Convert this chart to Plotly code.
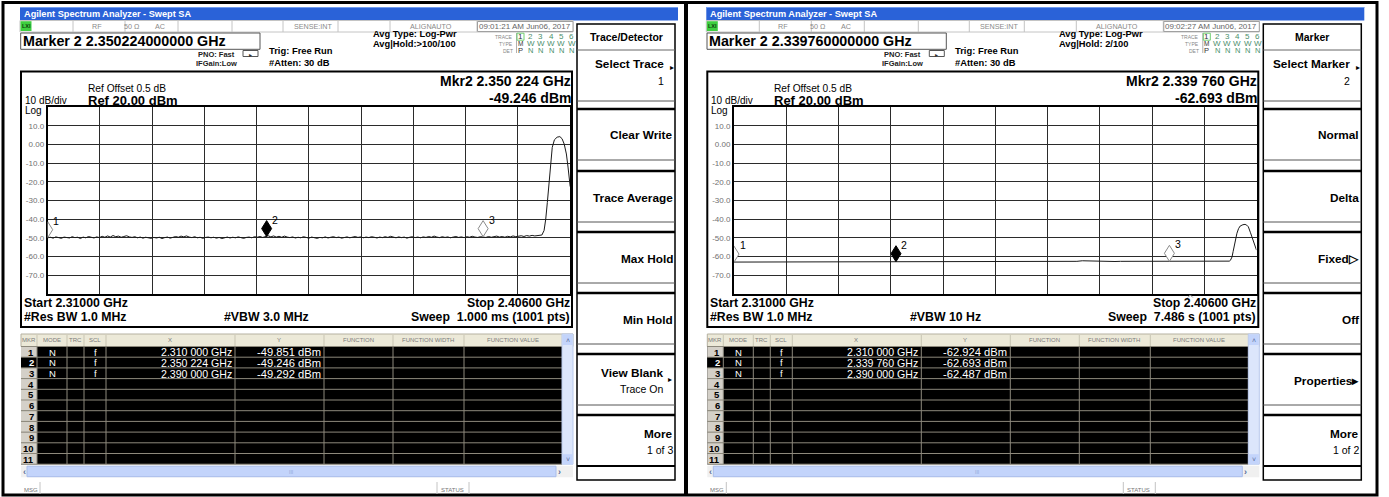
import plotly.graph_objects as go

W, H = 1389, 497
FONT = 'Liberation Sans'

# ---------------- data ----------------
F_START, F_STOP = 2.310, 2.406          # GHz
Y_MIN, Y_MAX = -80.0, 20.0              # dBm
N_DIV = 10
Y_TICK_VALS = [10, 0, -10, -20, -30, -40, -50, -60, -70]
Y_TICK_TEXT = ['10.0', '0.00', '-10.0', '-20.0', '-30.0', '-40.0', '-50.0', '-60.0', '-70.0']

# left screen: trace 1 (noise floor, 0.5 MHz sampled) + carrier edge
L_NOISE_F0, L_NOISE_DF = 2.310, 0.0005
L_NOISE = [
    -49.9, -49.6, -50.1, -49.4, -49.8, -50.2, -49.5, -49.7, -50.0, -49.3, -49.8, -49.6, -50.3, -49.5, -49.9, -49.2, -49.7, -50.0, -49.4, -49.8,
    -49.1, -49.6, -48.9, -49.5, -48.7, -49.3, -49.0, -49.6, -49.2, -48.8, -49.4, -49.7, -49.3, -49.9, -49.5, -50.1, -49.6, -49.8, -50.2, -49.7,
    -50.0, -49.6, -50.3, -49.8, -49.5, -50.1, -49.7, -49.2, -49.6, -49.0, -49.4, -48.9, -49.5, -49.8, -49.3, -49.9, -49.6, -50.2, -49.7, -49.5,
    -49.9, -49.6, -50.1, -49.7, -50.3, -49.8, -49.5, -50.0, -49.6, -49.9, -49.4, -49.8, -50.2, -49.7, -49.5, -49.9, -49.3, -49.6, -49.2, -49.7,
    -49.3, -48.8, -49.4, -48.9, -49.5, -49.1, -49.6, -49.0, -49.5, -49.8, -49.4, -50.0, -49.6, -49.9, -49.3, -49.7, -50.1, -49.5, -49.8, -50.2,
    -49.7, -49.9, -49.4, -50.0, -49.6, -49.3, -49.8, -49.5, -50.1, -49.7, -49.4, -49.9, -49.6, -49.2, -49.7, -49.4, -49.9, -49.5, -49.8, -49.3,
    -49.6, -50.0, -49.5, -49.8, -49.3, -49.7, -49.1, -49.6, -49.9, -49.4, -49.8, -49.5, -50.1, -49.6, -49.3, -49.8, -49.5, -49.9, -49.4, -49.7,
    -49.2, -49.6, -49.0, -49.5, -49.8, -49.3, -49.7, -49.4, -49.9, -49.5, -49.2, -49.7, -49.4, -49.8, -49.3, -49.6, -49.1, -49.5, -49.7, -49.3,
    -49.4, -49.7, -49.2, -49.6, -49.3, -49.0, -49.5, -49.2, -49.6, -49.1, -49.4, -48.9, -49.3, -49.0, -48.8, -49.2, -48.7, -49.0, -48.6, -48.9,
    -48.7,
]
L_PEAK_F = [2.4008, 2.4012, 2.4015, 2.4018, 2.4021, 2.4024, 2.4027, 2.4031, 2.4036, 2.4041, 2.4045, 2.4049, 2.4053, 2.4056, 2.4060]
L_PEAK_V = [-48.4, -46.0, -40.0, -31.0, -20.0, -9.0, -1.5, 2.6, 4.0, 4.3, 3.2, 0.3, -5.0, -12.0, -22.5]

# right screen: heavily video-filtered trace (1 MHz sampled) + carrier edge
R_NOISE_F0, R_NOISE_DF = 2.310, 0.001
R_NOISE = [
    -62.9, -62.9, -62.9, -62.8, -62.9, -62.8, -62.8, -62.9, -62.8, -62.8,
    -62.8, -62.8, -62.7, -62.8, -62.8, -62.7, -62.8, -62.7, -62.7, -62.8,
    -62.7, -62.7, -62.8, -62.7, -62.7, -62.7, -62.7, -62.6, -62.7, -62.7,
    -62.7, -62.7, -62.6, -62.7, -62.7, -62.6, -62.7, -62.6, -62.7, -62.6,
    -62.6, -62.7, -62.6, -62.6, -62.7, -62.6, -62.6, -62.6, -62.7, -62.6,
    -62.6, -62.6, -62.6, -62.5, -62.6, -62.6, -62.6, -62.5, -62.6, -62.6,
    -62.5, -62.6, -62.6, -62.5, -62.2, -62.3, -62.5, -62.6, -62.5, -62.5,
    -62.6, -62.5, -62.5, -62.5, -62.6, -62.5, -62.5, -62.5, -62.6, -62.5,
    -62.5, -62.5, -62.4, -62.5, -62.5, -62.2, -62.3, -62.5, -62.4, -62.5,
    -62.4,
]
R_PEAK_F = [2.4010, 2.4012, 2.4015, 2.4017, 2.4020, 2.4024, 2.4027, 2.4030, 2.4035, 2.4039, 2.4042, 2.4045, 2.4049, 2.4052, 2.4055, 2.4058, 2.4060]
R_PEAK_V = [-62.4, -62.0, -60.2, -57.3, -52.5, -47.5, -45.0, -43.6, -42.9, -42.7, -43.1, -44.0, -47.2, -49.7, -53.0, -55.6, -56.5]

# markers
L_MKR_F = [2.310000, 2.350224, 2.390000]
L_MKR_V = [-49.851, -49.246, -49.292]
R_MKR_F = [2.310000, 2.339760, 2.390000]
R_MKR_V = [-62.924, -62.693, -62.487]
ACTIVE_MKR = 2

# instrument settings text
TITLE = 'Agilent Spectrum Analyzer - Swept SA'
STATUS_TXT = [('RF', 97, 'center'), ('50 Ω', 132, 'center'), ('AC', 160, 'center'),
              ('SENSE:INT', 334, 'right'), ('ALIGNAUTO', 431, 'center')]
L_DATE, R_DATE = '09:01:21 AM Jun06, 2017', '09:02:27 AM Jun06, 2017'
L_AVG, R_AVG = 'Avg|Hold:&gt;100/100', 'Avg|Hold: 2/100'
L_VBW, R_VBW = '#VBW 3.0 MHz', '#VBW 10 Hz'
L_SWEEP, R_SWEEP = 'Sweep  1.000 ms (1001 pts)', 'Sweep  7.486 s (1001 pts)'
RBW = '#Res BW 1.0 MHz'
L_HEADER, R_HEADER = 'Trace/Detector', 'Marker'
L_KEYS = [('Select Trace', '1', True), ('Clear Write', '', False), ('Trace Average', '', False),
          ('Max Hold', '', False), ('Min Hold', '', False), ('View Blank', 'Trace On', True),
          ('More', '1 of 3', False)]
R_KEYS = [('Select Marker', '2', True), ('Normal', '', False), ('Delta', '', False),
          ('Fixed▷', '', False), ('Off', '', False), ('Properties▸', '', False),
          ('More', '1 of 2', False)]
TRACE_NUMS = ['1', '2', '3', '4', '5', '6']
TRACE_TYPES = ['M', 'W', 'W', 'W', 'W', 'W']
TRACE_DETS = ['P', 'N', 'N', 'N', 'N', 'N']
TABLE_HEAD = [('MKR', 29), ('MODE', 52), ('TRC', 75.5), ('SCL', 95), ('X', 170), ('Y', 279),
              ('FUNCTION', 358), ('FUNCTION WIDTH', 428), ('FUNCTION VALUE', 513)]
TABLE_ROWS = 11

# ---------------- geometry (pixels) ----------------
PANEL_DX = [0.0, 686.3]
GX0, GX1 = 47.7, 570.2
GY0, GY1 = 107.3, 294.0
COL_SEPS = [37, 67, 84, 106, 235, 324, 393, 464]
STATUS_SEPS = [73, 125, 178, 232, 283, 338, 390, 477]
KEY_TOPS = [50, 109, 171, 232, 293, 354, 415]
KEY_H = 51
ROW_TOP, ROW_H = 346.5, 10.7

shapes, anns = [], []


def rect(x0, y0, x1, y1, fill=None, line=None, lw=1.0):
    shapes.append(dict(type='rect', xref='paper', yref='paper', layer='above',
                       x0=x0 / W, x1=x1 / W, y0=1 - y1 / H, y1=1 - y0 / H,
                       fillcolor=fill if fill else 'rgba(0,0,0,0)',
                       line=dict(color=line if line else 'rgba(0,0,0,0)', width=lw if line else 0)))


def seg(x0, y0, x1, y1, color='black', lw=1.0):
    shapes.append(dict(type='line', xref='paper', yref='paper', layer='above',
                       x0=x0 / W, x1=x1 / W, y0=1 - y0 / H, y1=1 - y1 / H,
                       line=dict(color=color, width=lw)))


def txt(x, y, s, size=10, bold=False, color='black', anchor='left'):
    anns.append(dict(xref='paper', yref='paper', x=x / W, y=1 - y / H,
                     text=('<b>%s</b>' % s) if bold else s, showarrow=False,
                     xanchor=anchor, yanchor='middle', borderpad=0,
                     font=dict(size=size, color=color, family=FONT)))


def fmt_ghz(f):
    s = '%.6f' % f
    return s[:5] + ' ' + s[5:]


PANELS = [
    dict(noise=(L_NOISE_F0, L_NOISE_DF, L_NOISE), peak=(L_PEAK_F, L_PEAK_V),
         mkr=(L_MKR_F, L_MKR_V), date=L_DATE, avg=L_AVG, vbw=L_VBW, sweep=L_SWEEP,
         header=L_HEADER, keys=L_KEYS),
    dict(noise=(R_NOISE_F0, R_NOISE_DF, R_NOISE), peak=(R_PEAK_F, R_PEAK_V),
         mkr=(R_MKR_F, R_MKR_V), date=R_DATE, avg=R_AVG, vbw=R_VBW, sweep=R_SWEEP,
         header=R_HEADER, keys=R_KEYS),
]

fig = go.Figure()

# outer document table borders
rect(3, 2.5, 1377, 495, line='black', lw=3)
seg(686, 2.5, 686, 495, 'black', 4)

for pi, p in enumerate(PANELS):
    dx = PANEL_DX[pi]
    X = lambda x, d=dx: x + d
    xa = 'x' if pi == 0 else 'x2'
    ya = 'y' if pi == 0 else 'y2'
    mf, mv = p['mkr']
    act = ACTIVE_MKR - 1

    # title bar
    rect(X(20), 7, X(678), 20.5, fill='#2a62d8')
    seg(X(20), 7.5, X(678), 7.5, '#6f9cf0', 1)
    txt(X(23), 13.9, TITLE, 9.2, True, 'white')

    # status row
    rect(X(20), 20.5, X(573), 32, fill='white', line='#c4c4c4', lw=1)
    rect(X(20.5), 21.2, X(31.5), 31, fill='#3fcf3f')
    txt(X(26), 26.2, 'LXI', 5.5, True, '#0d3d0d', 'center')
    for sx in STATUS_SEPS:
        seg(X(sx), 21, X(sx), 32, '#c4c4c4', 1)
    for s, sx, anc in STATUS_TXT:
        txt(X(sx), 26.0, s, 7.2, False, '#8a8a8a', anc)
    rect(X(477.5), 21.5, X(573), 31.5, fill='white', line='#a0a0a0', lw=1)
    txt(X(525), 26.3, p['date'], 8, False, '#666', 'center')

    # marker frequency entry line
    rect(X(20.7), 33, X(260), 49.3, fill='white', line='#555', lw=1)
    txt(X(22), 41.2, 'Marker %d %.12f GHz' % (ACTIVE_MKR, mf[act]), 14.3, True, 'black')
    txt(X(216.5), 54, 'PNO: Fast', 7.5, True, '#222', 'center')
    txt(X(216), 63.8, 'IFGain:Low', 7.5, True, '#222', 'center')
    rect(X(243), 50.5, X(258), 56.5, fill='white', line='#555', lw=1)
    txt(X(250.5), 54.5, '▸', 6, False, '#333', 'center')
    txt(X(268), 50.5, 'Trig: Free Run', 9.4, True)
    txt(X(268), 62.3, '#Atten: 30 dB', 9.4, True)
    txt(X(372), 34.3, 'Avg Type: Log-Pwr', 9.3, True)
    txt(X(372), 44.2, p['avg'], 9.3, True)

    # trace legend box
    seg(X(516.5), 33, X(516.5), 53, '#b0b0b0', 1)
    rect(X(517), 33.2, X(524), 40.2, line='#70cf70', lw=1)
    txt(X(514), 36.7, 'TRACE', 5, False, '#888', 'right')
    txt(X(514), 43.6, 'TYPE', 5, False, '#888', 'right')
    txt(X(514), 50.5, 'DET', 5, False, '#888', 'right')
    for k in range(6):
        cx = X(520.5 + k * 10.2)
        txt(cx, 36.9, TRACE_NUMS[k], 8, False, '#333' if k == 0 else '#4b8f6d', 'center')
        txt(cx, 43.7, TRACE_TYPES[k], 6.5 if k == 0 else 8, False, '#333' if k == 0 else '#4b8f6d', 'center')
        txt(cx, 50.6, TRACE_DETS[k], 7.5, False, '#333' if k == 0 else '#4b8f6d', 'center')

    # graticule frame and annotations
    rect(X(21), 71.5, X(572), 327, line='black', lw=2)
    txt(X(87), 88.6, 'Ref Offset 0.5 dB', 10.2)
    txt(X(87), 100.3, 'Ref 20.00 dBm', 13, True)
    txt(X(24), 100.3, '10 dB/div', 10)
    txt(X(24), 110.8, 'Log', 10)
    txt(X(572), 80.5, 'Mkr%d %s GHz' % (ACTIVE_MKR, fmt_ghz(mf[act])), 14, True, 'black', 'right')
    txt(X(572), 97.5, '%.3f dBm' % mv[act], 14, True, 'black', 'right')
    txt(X(23), 303.2, 'Start %.5f GHz' % F_START, 12.3, True)
    txt(X(23), 317.4, RBW, 12.3, True)
    txt(X(223), 317.4, p['vbw'], 12.3, True)
    txt(X(571), 303.2, 'Stop %.5f GHz' % F_STOP, 12.3, True, 'black', 'right')
    txt(X(571), 317.4, p['sweep'], 12.3, True, 'black', 'right')
    if pi == 1:
        shapes.append(dict(type='path', xref='paper', yref='paper', layer='above',
                           path='M %.5f %.5f L %.5f %.5f L %.5f %.5f' % (
                               X(501.5) / W, 1 - 297.5 / H, X(504) / W, 1 - 295 / H,
                               X(506.5) / W, 1 - 297.5 / H),
                           line=dict(color='#999', width=1)))

    # trace
    f0, df, nv = p['noise']
    pf, pv = p['peak']
    fx = [f0 + i * df for i in range(len(nv))] + list(pf)
    fy = list(nv) + list(pv)
    fig.add_trace(go.Scatter(x=fx, y=fy, mode='lines', line=dict(color='#1a1a1a', width=1),
                             xaxis=xa, yaxis=ya, hoverinfo='skip', showlegend=False))

    # markers (diamonds whose lower tip sits on the trace point)
    for k in range(len(mf)):
        active = (k == act)
        shapes.append(dict(type='path', xref=xa, yref=ya, xsizemode='pixel', ysizemode='pixel',
                           xanchor=mf[k], yanchor=mv[k], layer='above',
                           path='M 0 0 L 5 8 L 0 16 L -5 8 Z',
                           fillcolor='black' if active else 'white',
                           line=dict(color='black' if active else '#8a8a8a', width=1)))
        anns.append(dict(xref=xa, yref=ya, x=mf[k], y=mv[k], text=str(k + 1), showarrow=False,
                         xanchor='left', yanchor='bottom', xshift=4.5, yshift=10, borderpad=0,
                         font=dict(size=10.5, color='black', family=FONT)))

    # marker table
    rect(X(21), 334, X(573), 346.5, fill='#ece9d8', line='#b5b1a0', lw=1)
    for cx in COL_SEPS:
        seg(X(cx), 335, X(cx), 346, '#c9c5b3', 1)
    for s, cx in TABLE_HEAD:
        txt(X(cx), 340.3, s, 6, False, '#7a7a7a', 'center')
    tb = ROW_TOP + TABLE_ROWS * ROW_H
    rect(X(21), ROW_TOP, X(562), tb, fill='black')
    for r in range(TABLE_ROWS):
        yt = ROW_TOP + r * ROW_H
        hl = (r == act)
        rect(X(21), yt, X(37), yt + ROW_H, fill='black' if hl else '#d4d0c8')
        txt(X(35), yt + ROW_H / 2 + 0.3, str(r + 1), 9.5, True, 'white' if hl else 'black', 'right')
        seg(X(21), yt, X(562), yt, '#8d897c', 1)
        if r < len(mf):
            yc = yt + ROW_H / 2 + 0.3
            txt(X(52), yc, 'N', 9.5, False, 'white', 'center')
            txt(X(95), yc, 'f', 9.5, False, 'white', 'center')
            txt(X(233), yc, fmt_ghz(mf[r]) + ' GHz', 10.6, False, 'white', 'right')
            txt(X(322), yc, '%.3f dBm' % mv[r], 11.2, False, 'white', 'right')
    seg(X(21), tb, X(562), tb, '#8d897c', 1)
    for cx in COL_SEPS:
        seg(X(cx), ROW_TOP, X(cx), tb, '#8d897c', 1)
    # scrollbars
    rect(X(562), 334, X(573), tb, fill='#dce6fb', line='#b9c9ec', lw=1)
    rect(X(562.5), 334.5, X(572.5), 345, fill='#c3d4fb')
    txt(X(567.5), 340, '˄', 7, False, '#5a6e9a', 'center')
    rect(X(562.5), tb - 10, X(572.5), tb, fill='#c3d4fb')
    txt(X(567.5), tb - 5, '˅', 7, False, '#5a6e9a', 'center')
    rect(X(21), tb + 1.5, X(573), tb + 13, fill='#f0f0f0')
    rect(X(27), tb + 2, X(556), tb + 12.5, fill='#c3d4fb', line='#a9bdea', lw=1)
    txt(X(24), tb + 7.3, '‹', 9, True, '#5a6e9a', 'center')
    txt(X(559), tb + 7.3, '›', 9, True, '#5a6e9a', 'center')
    txt(X(291), tb + 7.3, 'III', 5, False, '#8fa6d6', 'center')

    # message bar
    seg(X(40), 482, X(40), 494, '#c4c4c4', 1)
    seg(X(437), 482, X(437), 494, '#c4c4c4', 1)
    seg(X(469), 482, X(469), 494, '#c4c4c4', 1)
    txt(X(23), 489.5, 'MSG', 6, False, '#777')
    txt(X(440), 489.5, 'STATUS', 6, False, '#777')

    # softkey column
    rect(X(577), 24, X(675), 480, fill='white', line='black', lw=1.5)
    seg(X(577), 50, X(675), 50, '#666', 1)
    txt(X(626), 37.3, p['header'], 10.5, True, 'black', 'center')
    for i, (l1, l2, arrow) in enumerate(p['keys']):
        t = KEY_TOPS[i]
        if i > 0:
            seg(X(577), t, X(675), t, 'black', 2.5)
        seg(X(577), t + KEY_H, X(675), t + KEY_H, '#555', 1)
        xr = X(665) if arrow else X(673.5)
        if i == 0:
            txt(xr, t + 13.5, l1, 11.8, True, 'black', 'right')
            txt(xr, t + 30.5, l2, 10.5, False, 'black', 'right')
            txt(X(671.5), t + 17.5, '▸', 8, False, 'black', 'center')
        elif l2:
            txt(xr, t + 18.5, l1, 11.8, True, 'black', 'right')
            txt(xr, t + 34.5, l2, 10.5, False, 'black', 'right')
            if arrow:
                txt(X(670), t + 25, '▸', 8, False, 'black', 'center')
        else:
            txt(xr, t + 26.5, l1, 11.8, True, 'black', 'right')
    seg(X(577), 466, X(675), 466, 'black', 2)

# ---------------- axes ----------------
x_grid = [F_START + k * (F_STOP - F_START) / N_DIV for k in range(1, N_DIV)]


def xaxis_def(d):
    return dict(domain=[(GX0 + d) / W, (GX1 + d) / W], range=[F_START, F_STOP],
                tickvals=x_grid, showticklabels=False, ticks='', showgrid=True,
                gridcolor='#2b2b2b', gridwidth=1, showline=True, linecolor='black',
                linewidth=2, mirror=True, zeroline=False, fixedrange=True)


def yaxis_def(anchor):
    return dict(domain=[1 - GY1 / H, 1 - GY0 / H], range=[Y_MIN, Y_MAX],
                tickvals=Y_TICK_VALS, ticktext=Y_TICK_TEXT, ticks='', showgrid=True,
                gridcolor='#2b2b2b', gridwidth=1, showline=True, linecolor='black',
                linewidth=2, mirror=True, zeroline=False, fixedrange=True, anchor=anchor,
                tickfont=dict(size=8, color='#707070', family=FONT))


fig.update_layout(
    width=W, height=H, margin=dict(l=0, r=0, t=0, b=0), autosize=False,
    paper_bgcolor='white', plot_bgcolor='white', showlegend=False,
    xaxis=dict(xaxis_def(PANEL_DX[0]), anchor='y'),
    yaxis=yaxis_def('x'),
    xaxis2=dict(xaxis_def(PANEL_DX[1]), anchor='y2'),
    yaxis2=yaxis_def('x2'),
    shapes=shapes, annotations=anns,
    font=dict(family=FONT),
)

fig.write_html("out.html", config={'displayModeBar': False, 'staticPlot': True},
               post_script="document.body.style.margin='0';document.body.style.overflow='hidden';")
